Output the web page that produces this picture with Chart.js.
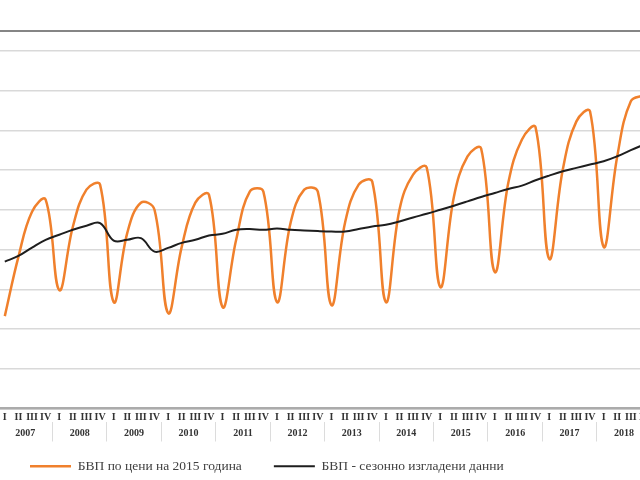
<!DOCTYPE html>
<html>
<head>
<meta charset="utf-8">
<script src="https://cdn.jsdelivr.net/npm/chart.js@4.4.1/dist/chart.umd.min.js"></script>
<style>
  html, body { margin: 0; padding: 0; background: #fff; overflow: hidden; width: 640px; height: 480px; }
  #chart { position: absolute; left: -2px; top: 0; }
</style>
</head>
<body>
<canvas id="chart" width="655" height="483"></canvas>
<script>
const years = ['2007', '2008', '2009', '2010', '2011', '2012', '2013', '2014', '2015', '2016', '2017', '2018'];
const quarterNames = ['I', 'II', 'III', 'IV'];

// БВП по цени на 2015 година (quarterly, 2007 Q1 - 2018 Q4)
const gdpActual = [
    19324, 20815, 21952, 22255,
    19981, 21573, 22508, 22634,
    19678, 21421, 22179, 22002,
    19400, 21068, 22179, 22381,
    19552, 21245, 22457, 22457,
    19678, 21674, 22508, 22457,
    19602, 21674, 22634, 22710,
    19678, 22002, 22887, 23064,
    20057, 22331, 23342, 23544,
    20436, 22685, 23771, 24074,
    20764, 23013, 24226, 24478,
    21068, 23342, 24731, 24883
];

// БВП - сезонно изгладени данни
const gdpSeasonal = [
    20696, 20840, 21050, 21245,
    21371, 21497, 21598, 21666,
    21227, 21245, 21287, 20949,
    21042, 21169, 21245, 21353,
    21396, 21497, 21515, 21497,
    21530, 21497, 21479, 21464,
    21454, 21454, 21515, 21580,
    21623, 21707, 21808, 21901,
    22002, 22104, 22212, 22323,
    22424, 22526, 22609, 22743,
    22861, 22970, 23056, 23139,
    23223, 23349, 23501, 23645
];

const yTicks = [17000, 18000, 19000, 20000, 21000, 22000, 23000, 24000, 25000, 26000, 26500];

const quarters = years.flatMap(() => quarterNames);

new Chart(document.getElementById('chart').getContext('2d'), {
    type: 'line',
    data: {
        labels: quarters,
        datasets: [
            {
                label: 'БВП - сезонно изгладени данни',
                data: gdpSeasonal,
                borderColor: '#1e1e1e',
                backgroundColor: '#1e1e1e',
                borderWidth: 2,
                pointRadius: 0,
                tension: 0.4,
                xAxisID: 'x'
            },
            {
                label: 'БВП по цени на 2015 година',
                data: gdpActual,
                borderColor: '#F0802C',
                backgroundColor: '#F0802C',
                borderWidth: 2.5,
                pointRadius: 0,
                tension: 0.4,
                xAxisID: 'x'
            }
        ]
    },
    options: {
        responsive: false,
        animation: false,
        layout: { padding: { top: 31, left: 0, right: 0, bottom: 0 } },
        plugins: {
            tooltip: { enabled: false },
            legend: {
                position: 'bottom',
                align: 'start',
                labels: {
                    usePointStyle: true,
                    pointStyle: 'line',
                    pointStyleWidth: 41,
                    padding: 32,
                    color: '#404040',
                    font: { family: 'Liberation Serif', size: 13.5 },
                    sort: (a, b) => b.datasetIndex - a.datasetIndex
                }
            }
        },
        scales: {
            x: {
                type: 'category',
                position: 'bottom',
                offset: true,
                weight: 0,
                grid: { display: false, drawTicks: false },
                border: { display: true, color: '#ababab', width: 2.5 },
                ticks: {
                    autoSkip: false,
                    maxRotation: 0,
                    padding: 3,
                    color: '#333',
                    font: { family: 'Liberation Serif', size: 10, weight: 'bold' }
                },
                afterFit: s => { s.height = 13; }
            },
            years: {
                type: 'category',
                position: 'bottom',
                labels: years,
                offset: true,
                weight: 1,
                grid: {
                    display: true,
                    offset: true,
                    drawOnChartArea: false,
                    drawTicks: true,
                    tickLength: 20,
                    color: '#dcdcdc',
                    lineWidth: 1
                },
                border: { display: false },
                ticks: {
                    autoSkip: false,
                    maxRotation: 0,
                    mirror: true,
                    padding: -18,
                    color: '#333',
                    font: { family: 'Liberation Serif', size: 10, weight: 'bold' }
                },
                afterFit: s => { s.height = 6; }
            },
            y: {
                min: 17000,
                max: 26500,
                afterBuildTicks: axis => { axis.ticks = yTicks.map(v => ({ value: v })); },
                ticks: { display: false },
                border: { display: false },
                grid: {
                    drawTicks: false,
                    color: c => c.tick && c.tick.value === 26500 ? '#858585' : '#d9d9d9',
                    lineWidth: c => c.tick && c.tick.value === 26500 ? 2 : 1.5
                }
            }
        }
    }
});
</script>
</body>
</html>
